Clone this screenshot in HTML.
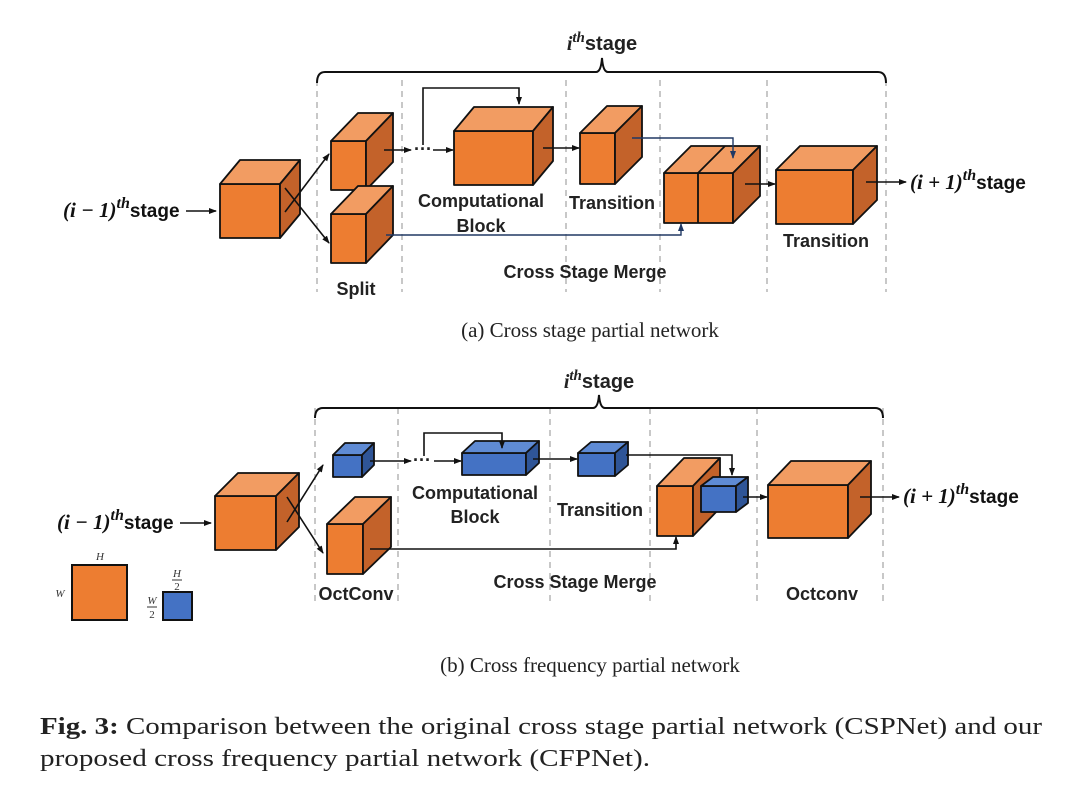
<!DOCTYPE html>
<html><head><meta charset="utf-8"><style>
html,body{margin:0;padding:0;background:#fff;}
svg{display:block;}
.lb{font-family:"Liberation Sans",sans-serif;font-weight:bold;font-size:18px;fill:#222;}
.mt{font-family:"Liberation Serif",serif;font-weight:bold;font-size:21px;fill:#111;}
.mi{font-family:"Liberation Serif",serif;font-weight:bold;font-style:italic;}
.cap{font-family:"Liberation Serif",serif;font-size:21px;fill:#222;}
.fig{font-family:"Liberation Serif",serif;font-size:24px;fill:#222;}
.of{fill:#ED7D31}.ot{fill:#F29C62}.os{fill:#C3622A}
.bf{fill:#4472C4}.bt{fill:#5F8BD4}.bs{fill:#2F5597}
g.c *{stroke:#111;stroke-width:1.8;stroke-linejoin:round}
.ds{stroke:#aaa;stroke-width:1.3;stroke-dasharray:6,5;fill:none}
.ar{stroke:#111;stroke-width:1.6;fill:none}
.nv{stroke:#203864;stroke-width:1.4;fill:none}
</style></head><body>
<svg width="1080" height="803" viewBox="0 0 1080 803" xmlns="http://www.w3.org/2000/svg">
<defs>
<marker id="ah" markerWidth="8" markerHeight="8" refX="7" refY="4" orient="auto" markerUnits="userSpaceOnUse"><path d="M0,1 L8,4 L0,7 z" fill="#111"/></marker>
<marker id="an" markerWidth="8" markerHeight="8" refX="7" refY="4" orient="auto" markerUnits="userSpaceOnUse"><path d="M0,1 L8,4 L0,7 z" fill="#203864"/></marker>
</defs>

<!-- ===== (a) ===== -->
<g class="ds"><line x1="317" y1="80" x2="317" y2="292"/><line x1="402" y1="80" x2="402" y2="292"/><line x1="566" y1="80" x2="566" y2="292"/><line x1="660" y1="80" x2="660" y2="292"/><line x1="767" y1="80" x2="767" y2="292"/><line x1="886" y1="80" x2="886" y2="292"/></g>
<path d="M317,83 Q317,72 325,72 L596,72 Q601,72 602,58 Q603,72 608,72 L878,72 Q886,72 886,83" fill="none" stroke="#111" stroke-width="2"/>
<text x="602" y="50" text-anchor="middle" class="lb" style="font-size:20px"><tspan class="mi" style="font-family:'Liberation Serif',serif">i</tspan><tspan class="mi" dy="-8" style="font-family:'Liberation Serif',serif;font-size:15px">th</tspan><tspan dy="8">stage</tspan></text>

<text x="63" y="217" class="mt"><tspan class="mi">(i − 1)</tspan><tspan class="mi" dy="-9" style="font-size:16px">th</tspan><tspan dy="9" style="font-family:'Liberation Sans',sans-serif;font-size:19px">stage</tspan></text>
<line class="ar" x1="186" y1="211" x2="216" y2="211" marker-end="url(#ah)"/>

<g class="c">
<rect class="of" x="220" y="184" width="60" height="54"/><polygon class="ot" points="220,184 240,160 300,160 280,184"/><polygon class="os" points="280,184 300,160 300,214 280,238"/>
<rect class="of" x="331" y="141" width="35" height="49"/><polygon class="ot" points="331,141 358,113 393,113 366,141"/><polygon class="os" points="366,141 393,113 393,162 366,190"/>
<rect class="of" x="331" y="214" width="35" height="49"/><polygon class="ot" points="331,214 358,186 393,186 366,214"/><polygon class="os" points="366,214 393,186 393,235 366,263"/>
<rect class="of" x="454" y="131" width="79" height="54"/><polygon class="ot" points="454,131 474,107 553,107 533,131"/><polygon class="os" points="533,131 553,107 553,161 533,185"/>
<rect class="of" x="580" y="133" width="35" height="51"/><polygon class="ot" points="580,133 607,106 642,106 615,133"/><polygon class="os" points="615,133 642,106 642,157 615,184"/>
<rect class="of" x="664" y="173" width="69" height="50"/><polygon class="ot" points="664,173 691,146 760,146 733,173"/><polygon class="os" points="733,173 760,146 760,196 733,223"/>
<line x1="698" y1="173" x2="698" y2="223"/><line x1="698" y1="173" x2="725" y2="146"/>
<rect class="of" x="776" y="170" width="77" height="54"/><polygon class="ot" points="776,170 800,146 877,146 853,170"/><polygon class="os" points="853,170 877,146 877,200 853,224"/>
</g>
<line class="ar" x1="285" y1="212" x2="329" y2="154" marker-end="url(#ah)"/>
<line class="ar" x1="285" y1="188" x2="329" y2="243" marker-end="url(#ah)"/>
<line class="ar" x1="384" y1="150" x2="411" y2="150" marker-end="url(#ah)"/>
<text x="414" y="155" class="lb" style="font-size:18px">···</text>
<line class="ar" x1="433" y1="150" x2="453" y2="150" marker-end="url(#ah)"/>
<polyline class="ar" points="423,145 423,88 519,88 519,104" marker-end="url(#ah)"/>
<line class="ar" x1="543" y1="148" x2="579" y2="148" marker-end="url(#ah)"/>
<polyline class="nv" points="632,138 733,138 733,158" marker-end="url(#an)"/>
<polyline class="nv" points="386,235 681,235 681,224" marker-end="url(#an)"/>
<line class="ar" x1="745" y1="184" x2="775" y2="184" marker-end="url(#ah)"/>
<line class="ar" x1="866" y1="182" x2="906" y2="182" marker-end="url(#ah)"/>
<text x="910" y="189" class="mt"><tspan class="mi">(i + 1)</tspan><tspan class="mi" dy="-9" style="font-size:16px">th</tspan><tspan dy="9" style="font-family:'Liberation Sans',sans-serif;font-size:19px">stage</tspan></text>

<text x="481" y="207" text-anchor="middle" class="lb">Computational</text>
<text x="481" y="232" text-anchor="middle" class="lb">Block</text>
<text x="612" y="209" text-anchor="middle" class="lb">Transition</text>
<text x="356" y="295" text-anchor="middle" class="lb">Split</text>
<text x="585" y="278" text-anchor="middle" class="lb">Cross Stage Merge</text>
<text x="826" y="247" text-anchor="middle" class="lb">Transition</text>
<text x="590" y="337" text-anchor="middle" class="cap">(a) Cross stage partial network</text>

<!-- ===== (b) ===== -->
<g class="ds"><line x1="315" y1="408" x2="315" y2="605"/><line x1="398" y1="408" x2="398" y2="605"/><line x1="550" y1="408" x2="550" y2="605"/><line x1="650" y1="408" x2="650" y2="605"/><line x1="757" y1="408" x2="757" y2="605"/><line x1="883" y1="408" x2="883" y2="605"/></g>
<path d="M315,418 Q315,408 323,408 L593,408 Q598,408 599,395 Q600,408 605,408 L875,408 Q883,408 883,418" fill="none" stroke="#111" stroke-width="2"/>
<text x="599" y="388" text-anchor="middle" class="lb" style="font-size:20px"><tspan class="mi" style="font-family:'Liberation Serif',serif">i</tspan><tspan class="mi" dy="-8" style="font-family:'Liberation Serif',serif;font-size:15px">th</tspan><tspan dy="8">stage</tspan></text>

<text x="57" y="529" class="mt"><tspan class="mi">(i − 1)</tspan><tspan class="mi" dy="-9" style="font-size:16px">th</tspan><tspan dy="9" style="font-family:'Liberation Sans',sans-serif;font-size:19px">stage</tspan></text>
<line class="ar" x1="180" y1="523" x2="211" y2="523" marker-end="url(#ah)"/>

<g class="c">
<rect class="of" x="215" y="496" width="61" height="54"/><polygon class="ot" points="215,496 238,473 299,473 276,496"/><polygon class="os" points="276,496 299,473 299,527 276,550"/>
<rect class="bf" x="333" y="455" width="29" height="22"/><polygon class="bt" points="333,455 345,443 374,443 362,455"/><polygon class="bs" points="362,455 374,443 374,465 362,477"/>
<rect class="of" x="327" y="524" width="36" height="50"/><polygon class="ot" points="327,524 355,497 391,497 363,524"/><polygon class="os" points="363,524 391,497 391,547 363,574"/>
<rect class="bf" x="462" y="453" width="64" height="22"/><polygon class="bt" points="462,453 475,441 539,441 526,453"/><polygon class="bs" points="526,453 539,441 539,463 526,475"/>
<rect class="bf" x="578" y="453" width="37" height="23"/><polygon class="bt" points="578,453 591,442 628,442 615,453"/><polygon class="bs" points="615,453 628,442 628,465 615,476"/>
<rect class="of" x="657" y="486" width="36" height="50"/><polygon class="ot" points="657,486 684,458 720,458 693,486"/><polygon class="os" points="693,486 720,458 720,508 693,536"/>
<rect class="bf" x="701" y="486" width="35" height="26"/><polygon class="bt" points="701,486 713,477 748,477 736,486"/><polygon class="bs" points="736,486 748,477 748,503 736,512"/>
<rect class="of" x="768" y="485" width="80" height="53"/><polygon class="ot" points="768,485 791,461 871,461 848,485"/><polygon class="os" points="848,485 871,461 871,514 848,538"/>
</g>
<line class="ar" x1="287" y1="522" x2="323" y2="465" marker-end="url(#ah)"/>
<line class="ar" x1="287" y1="497" x2="323" y2="553" marker-end="url(#ah)"/>
<line class="ar" x1="370" y1="461" x2="411" y2="461" marker-end="url(#ah)"/>
<text x="413" y="466" class="lb" style="font-size:18px">···</text>
<line class="ar" x1="434" y1="461" x2="461" y2="461" marker-end="url(#ah)"/>
<polyline class="ar" points="424,456 424,433 502,433 502,448" marker-end="url(#ah)"/>
<line class="ar" x1="533" y1="459" x2="577" y2="459" marker-end="url(#ah)"/>
<polyline class="ar" points="626,455 732,455 732,475" marker-end="url(#ah)"/>
<polyline class="ar" points="370,549 676,549 676,537" marker-end="url(#ah)"/>
<line class="ar" x1="743" y1="497" x2="767" y2="497" marker-end="url(#ah)"/>
<line class="ar" x1="860" y1="497" x2="899" y2="497" marker-end="url(#ah)"/>
<text x="903" y="503" class="mt"><tspan class="mi">(i + 1)</tspan><tspan class="mi" dy="-9" style="font-size:16px">th</tspan><tspan dy="9" style="font-family:'Liberation Sans',sans-serif;font-size:19px">stage</tspan></text>

<text x="475" y="499" text-anchor="middle" class="lb">Computational</text>
<text x="475" y="523" text-anchor="middle" class="lb">Block</text>
<text x="600" y="516" text-anchor="middle" class="lb">Transition</text>
<text x="356" y="600" text-anchor="middle" class="lb">OctConv</text>
<text x="575" y="588" text-anchor="middle" class="lb">Cross Stage Merge</text>
<text x="822" y="600" text-anchor="middle" class="lb">Octconv</text>

<!-- legend -->
<rect x="72" y="565" width="55" height="55" fill="#ED7D31" stroke="#111" stroke-width="2"/>
<rect x="163" y="592" width="29" height="28" fill="#4472C4" stroke="#111" stroke-width="2"/>
<g font-family="Liberation Serif,serif" font-style="italic" font-size="11" fill="#333" text-anchor="middle">
<text x="100" y="560">H</text><text x="60" y="597">W</text>
<text x="177" y="577">H</text><line x1="172" y1="580" x2="182" y2="580" stroke="#333"/><text x="177" y="590" font-style="normal">2</text>
<text x="152" y="604">W</text><line x1="147" y1="607" x2="157" y2="607" stroke="#333"/><text x="152" y="618" font-style="normal">2</text>
</g>

<text x="590" y="672" text-anchor="middle" class="cap">(b) Cross frequency partial network</text>

<text x="40" y="734" class="fig" textLength="1002" lengthAdjust="spacingAndGlyphs"><tspan font-weight="bold">Fig. 3:</tspan> Comparison between the original cross stage partial network (CSPNet) and our</text>
<text x="40" y="766" class="fig" textLength="610" lengthAdjust="spacingAndGlyphs">proposed cross frequency partial network (CFPNet).</text>
</svg>
</body></html>
